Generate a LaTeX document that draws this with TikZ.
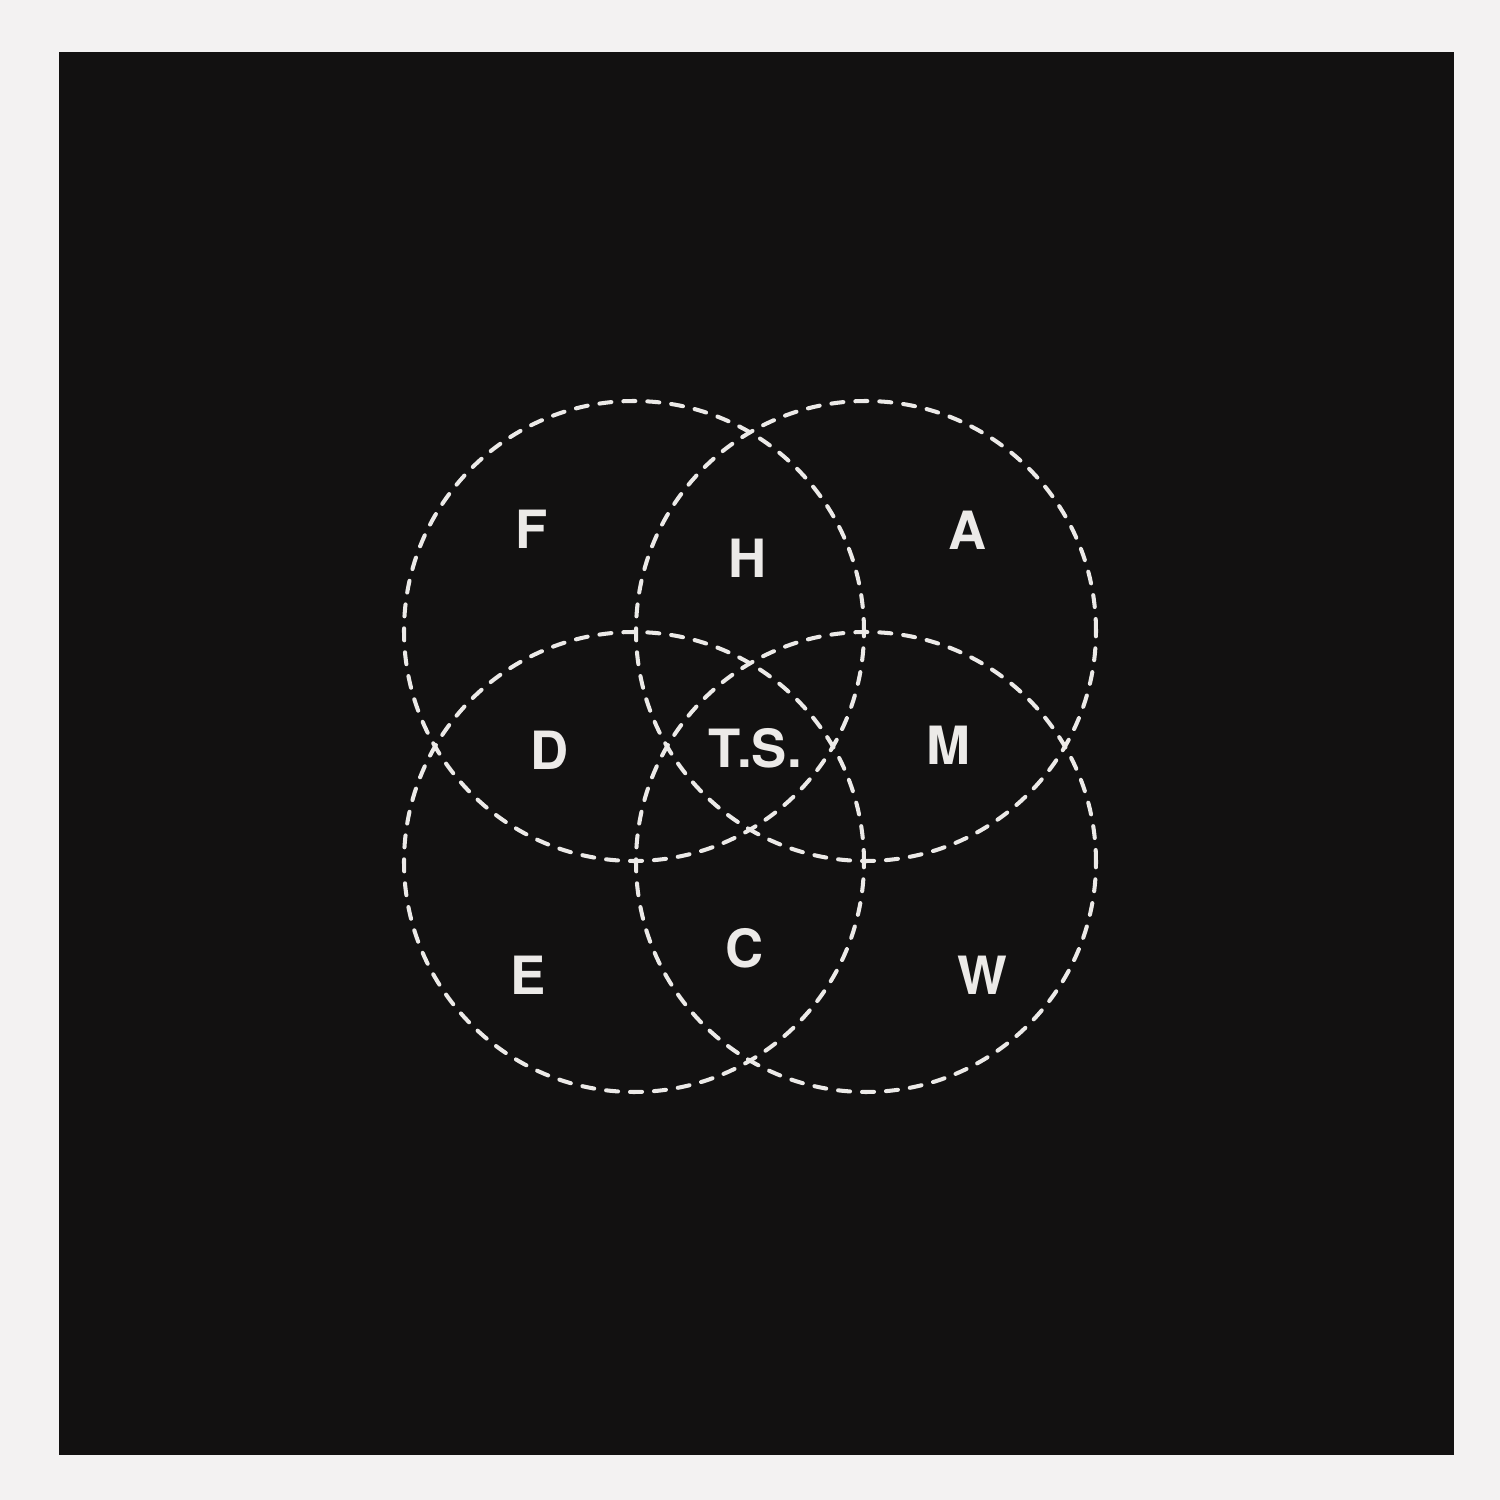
\documentclass[tikz,border=0pt]{standalone}
\usepackage{fontspec}
\setmainfont{TeX Gyre Heros}
\usetikzlibrary{shapes, positioning}
\definecolor{paper}{RGB}{243,242,242}
\definecolor{board}{RGB}{18,17,17}
\definecolor{chalk}{RGB}{236,234,232}

\begin{document}
\begin{tikzpicture}[
            x = 1cm, y = 1cm,
            line width = 1.15pt, % line style
        ]
 \tikzstyle{ringstyle}=[
             shape = circle,
            draw = chalk,
            line cap = round,
            dash pattern = on 1.2mm off 1.2mm,
            minimum size = 46mm,
            inner sep = 0pt
        ]
 \tikzstyle{labelstyle}=[
            text = chalk,
            font = \fontsize{15}{18}\selectfont\bfseries
        ]
% paper and board
\fill[paper] (0,0) rectangle (15,15);
\fill[board] (0.59,0.45) rectangle (14.54,14.48);
\useasboundingbox (0,0) rectangle (15,15);
% the four rings
\node[ringstyle](TL) at (6.34,8.69) {};
\node[ringstyle](TR) at (8.66,8.69) {};
\node[ringstyle](BL) at (6.34,6.38) {};
\node[ringstyle](BR) at (8.66,6.38) {};
% labels
\node[labelstyle](F) at (5.32,9.71) {F};
\node[labelstyle](H) at (7.48,9.42) {H};
\node[labelstyle](A) at (9.68,9.70) {A};
\node[labelstyle](D) at (5.50,7.50) {D};
\node[labelstyle](TS) at (7.55,7.52) {T.S.};
\node[labelstyle](M) at (9.48,7.55) {M};
\node[labelstyle](E) at (5.28,5.25) {E};
\node[labelstyle](C) at (7.45,5.52) {C};
\node[labelstyle](W) at (9.82,5.25) {W};
\end{tikzpicture}
\end{document}
